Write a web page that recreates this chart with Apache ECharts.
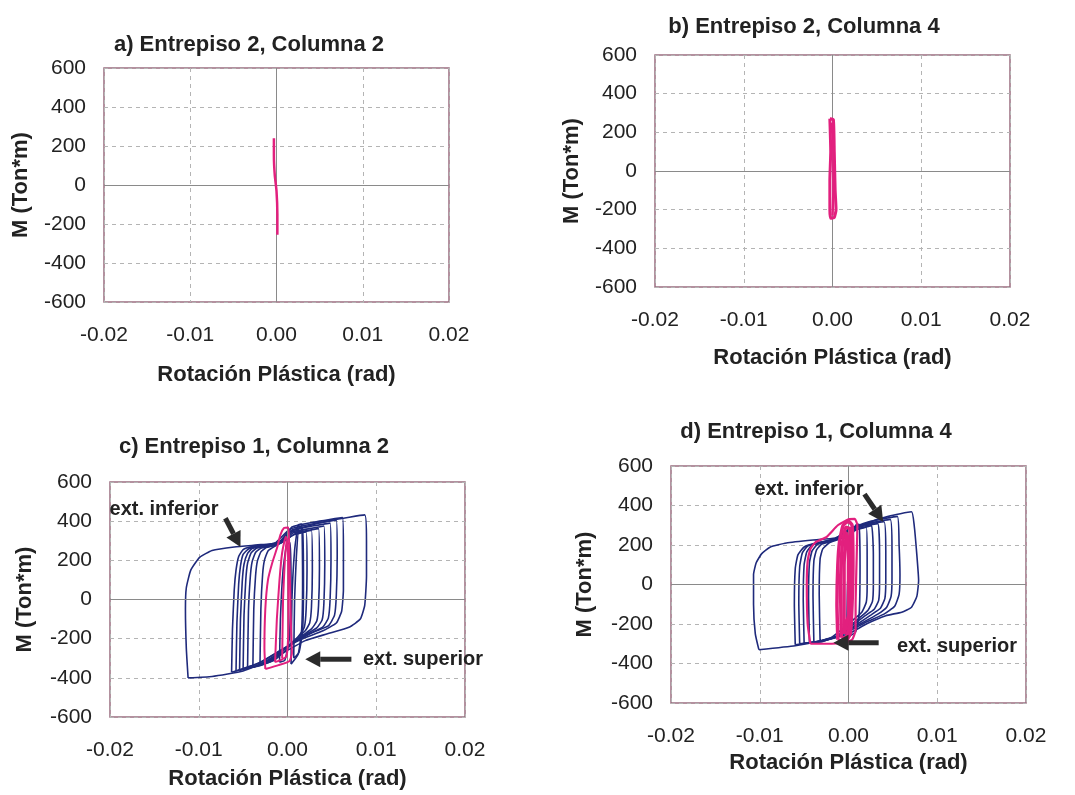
<!DOCTYPE html>
<html><head><meta charset="utf-8">
<script src="https://cdn.jsdelivr.net/npm/echarts@6/dist/echarts.min.js"></script>
<style>html,body{margin:0;padding:0;background:#fff}#c{width:1075px;height:795px}</style>
</head><body><div id="c"></div>
<script>
// ---------- texts ----------
const panelTitles = ['a) Entrepiso 2, Columna 2','b) Entrepiso 2, Columna 4','c) Entrepiso 1, Columna 2','d) Entrepiso 1, Columna 4'];
const xName = 'Rotación Plástica (rad)';
const yName = 'M (Ton*m)';
const xRange = [-0.02, 0.02, 0.01];
const yRange = [-600, 600, 200];

// ---------- data: [rotation (rad), M (Ton*m)] ----------
// a) Entrepiso 2, Columna 2
const aPink = [[-0.0003,240],[-0.0003,150],[-0.0002,50],[0.0,-30],[0.0001,-150],[0.0001,-255]];
// b) Entrepiso 2, Columna 4
const bPink = [[-0.0003,270],[0.0001,265],[0.0002,100],[0.0003,-100],[0.0004,-200],[0.0002,-240],[-0.0002,-245],[-0.0003,-200],[-0.0003,-50],[-0.0002,100],[-0.0003,270]];
const bPink2 = [[-0.0001,250],[0.0001,100],[0.0001,-100],[0.0,-230]];

// c) Entrepiso 1, Columna 2
const cBlue1 = [[-0.0112,-400],[-0.0114,-250],[-0.0115,-50],[-0.0114,60],[-0.0109,150],[-0.0099,215],[-0.0085,250],[-0.006,268],[-0.003,280],[-0.001,290],[0.0,340],[0.002,372],[0.005,405],[0.0087,432],[0.0089,300],[0.0089,120],[0.0087,-30],[0.0082,-100],[0.007,-140],[0.0045,-175],[0.002,-210],[0.0,-260],[-0.002,-310],[-0.005,-365],[-0.0085,-393],[-0.0112,-400]];
const cBlue2 = [[-0.0063,-372],[-0.0062,-150],[-0.006,50],[-0.0058,150],[-0.0055,220],[-0.005,255],[-0.004,270],[-0.002,282],[-0.0005,300],[0.0005,370],[0.003,395],[0.0062,418],[0.0063,250],[0.0063,50],[0.0061,-60],[0.0055,-120],[0.004,-160],[0.0015,-205],[-0.001,-265],[-0.003,-320],[-0.0063,-372]];
const cBlue3 = [[-0.0058,-365],[-0.0057,-120],[-0.0055,80],[-0.0053,170],[-0.005,230],[-0.0044,258],[-0.0035,270],[-0.0015,285],[0.0003,360],[0.003,388],[0.0055,405],[0.0056,220],[0.0055,20],[0.0053,-80],[0.0046,-135],[0.003,-165],[0.001,-210],[-0.0015,-280],[-0.0035,-330],[-0.0058,-365]];
const cBlue4 = [[-0.0054,-362],[-0.0053,-100],[-0.0051,90],[-0.0049,180],[-0.0045,235],[-0.004,260],[-0.003,272],[-0.001,290],[0.0005,355],[0.0028,375],[0.0048,390],[0.0049,200],[0.0048,0],[0.0046,-95],[0.004,-140],[0.0025,-175],[0.0005,-225],[-0.0015,-290],[-0.0035,-340],[-0.0054,-362]];
const cBlue5 = [[-0.005,-355],[-0.0049,-80],[-0.0047,100],[-0.0045,185],[-0.0041,238],[-0.0035,262],[-0.0025,272],[-0.0008,290],[0.0005,345],[0.0025,362],[0.0041,375],[0.0042,180],[0.0041,-20],[0.0039,-105],[0.0033,-145],[0.002,-180],[0.0,-240],[-0.002,-305],[-0.0035,-340],[-0.005,-355]];
const cBlue6 = [[-0.0045,-350],[-0.0044,-60],[-0.0042,110],[-0.004,190],[-0.0036,240],[-0.003,262],[-0.002,272],[-0.0005,295],[0.0006,340],[0.0022,352],[0.0035,362],[0.0036,160],[0.0035,-30],[0.0033,-110],[0.0027,-150],[0.0015,-190],[-0.0002,-250],[-0.002,-315],[-0.0032,-340],[-0.0045,-350]];
const cBlue7 = [[-0.0039,-345],[-0.0038,-50],[-0.0036,120],[-0.0034,195],[-0.003,243],[-0.0024,265],[-0.0015,275],[-0.0003,300],[0.0008,335],[0.0018,345],[0.0027,352],[0.0028,150],[0.0027,-40],[0.0025,-120],[0.002,-160],[0.001,-200],[-0.0005,-260],[-0.002,-320],[-0.0039,-345]];
const cBlue8 = [[-0.0031,-335],[-0.003,-50],[-0.0028,130],[-0.0026,200],[-0.0022,248],[-0.0015,270],[-0.0005,295],[0.0007,330],[0.0015,340],[0.0021,345],[0.0022,150],[0.0021,-50],[0.0019,-140],[0.0012,-190],[0.0,-250],[-0.0015,-310],[-0.0031,-335]];
const cBlue9 = [[0.0004,-330],[0.0005,0],[0.0008,250],[0.0012,380],[0.0016,385],[0.0017,100],[0.0016,-150],[0.0012,-280],[0.0004,-330]];
const cBlue10 = [[0.0007,-300],[0.0008,0],[0.001,220],[0.0013,370],[0.0017,360],[0.0018,80],[0.0017,-160],[0.0013,-270],[0.0007,-300]];
const cBlue11 = [[-0.0009,-320],[-0.0008,-100],[-0.0005,150],[-0.0001,280],[0.0003,290],[0.0004,50],[0.0002,-200],[-0.0003,-310],[-0.0009,-320]];
const cPink1 = [[-0.0025,-355],[-0.0026,-250],[-0.0025,-50],[-0.0022,100],[-0.0017,190],[-0.0012,260],[-0.0008,330],[-0.0004,365],[0.0001,368],[0.0002,250],[0.0003,50],[0.0004,-150],[0.0005,-275],[0.0002,-315],[-0.001,-335],[-0.0025,-355]];
const cPink2 = [[-0.0014,-320],[-0.0012,-100],[-0.0009,100],[-0.0006,240],[-0.0002,320],[0.0,300],[0.0001,100],[0.0001,-150],[-0.0001,-290],[-0.0008,-310],[-0.0014,-320]];
const cPink3 = [[-0.0006,-300],[-0.0005,0],[-0.0003,200],[-0.0001,300]];

// d) Entrepiso 1, Columna 4
const dBlue1 = [[-0.0101,-330],[-0.0105,-250],[-0.0107,-100],[-0.0107,50],[-0.0104,110],[-0.0098,155],[-0.0088,190],[-0.007,210],[-0.004,225],[-0.0015,235],[0.0,270],[0.002,310],[0.0045,345],[0.0071,368],[0.0074,300],[0.0077,150],[0.0079,20],[0.0077,-60],[0.0071,-115],[0.006,-140],[0.0042,-158],[0.002,-200],[0.0,-250],[-0.003,-285],[-0.006,-310],[-0.0101,-330]];
const dBlue2 = [[-0.006,-305],[-0.0061,-100],[-0.006,80],[-0.0057,150],[-0.005,190],[-0.0035,212],[-0.0015,232],[0.0,280],[0.0025,320],[0.0055,345],[0.0057,200],[0.0058,50],[0.0057,-50],[0.0052,-110],[0.004,-150],[0.002,-190],[-0.0005,-250],[-0.003,-285],[-0.006,-305]];
const dBlue3 = [[-0.0055,-300],[-0.0056,-90],[-0.0055,90],[-0.0052,160],[-0.0046,195],[-0.003,215],[-0.001,235],[0.0003,285],[0.0025,312],[0.0047,330],[0.0049,180],[0.0049,30],[0.0048,-60],[0.0043,-115],[0.0033,-150],[0.0015,-195],[-0.001,-255],[-0.003,-285],[-0.0055,-300]];
const dBlue4 = [[-0.005,-298],[-0.0051,-80],[-0.005,100],[-0.0047,165],[-0.0041,200],[-0.0025,218],[-0.0008,238],[0.0005,285],[0.0022,305],[0.004,318],[0.0042,170],[0.0042,20],[0.0041,-70],[0.0036,-120],[0.0025,-155],[0.001,-200],[-0.001,-260],[-0.003,-288],[-0.005,-298]];
const dBlue5 = [[-0.0044,-295],[-0.0045,-70],[-0.0044,110],[-0.0041,170],[-0.0035,203],[-0.002,222],[-0.0005,242],[0.0006,285],[0.002,298],[0.0033,308],[0.0035,160],[0.0035,10],[0.0034,-80],[0.0029,-125],[0.0018,-160],[0.0005,-205],[-0.0015,-265],[-0.003,-290],[-0.0044,-295]];
const dBlue6 = [[-0.0039,-292],[-0.004,-60],[-0.0039,120],[-0.0036,175],[-0.003,205],[-0.0015,225],[-0.0003,248],[0.0008,280],[0.0018,290],[0.0026,298],[0.0028,150],[0.0028,0],[0.0027,-85],[0.0022,-130],[0.0012,-170],[0.0,-215],[-0.0015,-270],[-0.0039,-292]];
const dBlue7 = [[-0.0032,-285],[-0.0033,-50],[-0.0032,130],[-0.0029,180],[-0.0022,210],[-0.001,230],[0.0,255],[0.001,278],[0.002,290],[0.0021,140],[0.0021,-10],[0.002,-90],[0.0015,-140],[0.0005,-180],[-0.0008,-230],[-0.002,-270],[-0.0032,-285]];
const dBlue8 = [[-0.0002,-270],[-0.0001,0],[0.0002,200],[0.0008,300],[0.0012,305],[0.0013,100],[0.0012,-150],[0.0008,-240],[-0.0002,-270]];
const dPink1 = [[-0.0043,-300],[-0.0046,-200],[-0.0047,0],[-0.0046,120],[-0.0043,180],[-0.0037,215],[-0.0025,240],[-0.0012,300],[0.0,330],[0.0007,332],[0.001,300],[0.0009,100],[0.0008,-100],[0.0008,-230],[0.0004,-280],[-0.0005,-295],[-0.0025,-300],[-0.0043,-300]];
const dPink2 = [[-0.0012,-280],[-0.0013,-100],[-0.0012,100],[-0.001,220],[-0.0006,300],[0.0,320],[0.0004,300],[0.0005,100],[0.0004,-100],[0.0002,-250],[-0.0004,-290],[-0.0012,-280]];
const dPink3 = [[-0.0008,-270],[-0.0009,0],[-0.0007,200],[-0.0003,290],[0.0002,280],[0.0002,0],[0.0001,-200],[-0.0003,-270],[-0.0008,-270]];
const dPink4 = [[-0.0005,-250],[-0.0005,100],[-0.0002,260],[0.0,200],[0.0,-150],[-0.0005,-250]];

// annotations
const annotTexts = ['ext. inferior','ext. superior'];
// arrows in data units: [panel index, from, to]
const arrows = [
  [2, [-0.0070, 415], [-0.0053, 268]],
  [2, [0.0072, -305], [0.0020, -305]],
  [3, [0.0018, 458], [0.0039, 318]],
  [3, [0.0034, -295], [-0.0017, -295]]
];

// ---------- layout & style ----------
const FONT = 'Liberation Sans, Arial, sans-serif';
const BLUE = '#1f2a7c';
const PINK = '#e2207e';
const grids = [
  {left:104, top:68, width:345, height:234},
  {left:655, top:55, width:355, height:232},
  {left:110, top:482, width:355, height:235},
  {left:671, top:466, width:355, height:237}
];
const titlePos = [[244,29],[799,11],[249,431],[811,416]];
const yNameGap = [72, 72, 74, 75];
const xNameGap = [62, 60, 51, 49];

const chart = echarts.init(document.getElementById('c'), null, {renderer:'canvas'});

const xAxes = grids.map((g,i)=>({
  type:'value', gridIndex:i, min:xRange[0], max:xRange[1], interval:xRange[2],
  axisLine:{show:false}, axisTick:{show:false},
  axisLabel:{margin:23, fontSize:21, color:'#222', fontFamily:FONT, formatter:v=>v.toFixed(2)},
  splitLine:{show:true, lineStyle:{color:'#b4b4b4', type:[4,4], width:1}},
  name:xName, nameLocation:'middle', nameGap:xNameGap[i],
  nameTextStyle:{fontSize:22, fontWeight:'bold', color:'#222', fontFamily:FONT}
}));
const yAxes = grids.map((g,i)=>({
  type:'value', gridIndex:i, min:yRange[0], max:yRange[1], interval:yRange[2],
  axisLine:{show:false}, axisTick:{show:false},
  axisLabel:{margin:18, fontSize:21, color:'#222', fontFamily:FONT},
  splitLine:{show:true, lineStyle:{color:'#b4b4b4', type:[4,4], width:1}},
  name:yName, nameLocation:'middle', nameGap:yNameGap[i],
  nameTextStyle:{fontSize:22, fontWeight:'bold', color:'#222', fontFamily:FONT}
}));

function loop(data, gi, color, width, z){
  return {type:'line', xAxisIndex:gi, yAxisIndex:gi, data:data, showSymbol:false, symbol:'none',
    smooth:0.15, lineStyle:{color:color, width:width}, z:z, silent:true, animation:false};
}

const series = [];
// zero lines
for (let i=0;i<4;i++){
  series.push({type:'line', xAxisIndex:i, yAxisIndex:i, data:[], z:1, silent:true, animation:false,
    markLine:{silent:true, symbol:['none','none'], label:{show:false},
      lineStyle:{color:'#8a8a8a', type:'solid', width:1},
      data:[{xAxis:0},{yAxis:0}]}});
}
series.push(loop(aPink,0,PINK,2.5,5));
series.push(loop(bPink,1,PINK,3,5));
series.push(loop(bPink2,1,PINK,2.5,5));
[cBlue1,cBlue2,cBlue3,cBlue4,cBlue5,cBlue6,cBlue7,cBlue8,cBlue9,cBlue10,cBlue11].forEach(d=>series.push(loop(d,2,BLUE,1.6,3)));
[cPink1,cPink2,cPink3].forEach(d=>series.push(loop(d,2,PINK,2,5)));
[dBlue1,dBlue2,dBlue3,dBlue4,dBlue5,dBlue6,dBlue7,dBlue8].forEach(d=>series.push(loop(d,3,BLUE,1.6,3)));
series.push(loop(dPink1,3,PINK,2.2,5));
[dPink2,dPink3,dPink4].forEach(d=>series.push(loop(d,3,PINK,3.5,5)));

const annotStyle = {font:'bold 20px '+FONT, fill:'#222', textAlign:'center', textVerticalAlign:'middle'};
const graphic = [
  {type:'text', x:164, y:509, z:10, style:Object.assign({text:annotTexts[0]}, annotStyle)},
  {type:'text', x:423, y:659, z:10, style:Object.assign({text:annotTexts[1]}, annotStyle)},
  {type:'text', x:809, y:489, z:10, style:Object.assign({text:annotTexts[0]}, annotStyle)},
  {type:'text', x:957, y:646, z:10, style:Object.assign({text:annotTexts[1]}, annotStyle)}
];

chart.setOption({
  animation:false,
  backgroundColor:'#ffffff',
  title: panelTitles.map((t,i)=>({text:t, left:titlePos[i][0], top:titlePos[i][1], textAlign:'center',
    textStyle:{fontSize:22, fontWeight:'bold', color:'#222', fontFamily:FONT}})),
  grid: grids.map(g=>Object.assign({show:true, borderColor:'#9a6d80', borderWidth:1.5, backgroundColor:'transparent', containLabel:false}, g)),
  xAxis:xAxes, yAxis:yAxes, series:series, graphic:graphic
});

// arrows: converted from data units through each grid's scales
const arrowEls = [];
arrows.forEach(a=>{
  const p0 = chart.convertToPixel({gridIndex:a[0]}, a[1]);
  const p1 = chart.convertToPixel({gridIndex:a[0]}, a[2]);
  const dx = p1[0]-p0[0], dy = p1[1]-p0[1];
  const len = Math.sqrt(dx*dx+dy*dy), ux = dx/len, uy = dy/len;
  const headL = 15, headW = 8;
  const bx = p1[0]-ux*headL, by = p1[1]-uy*headL;
  arrowEls.push({type:'line', z:20, shape:{x1:p0[0], y1:p0[1], x2:bx, y2:by}, style:{stroke:'#2b2b2b', lineWidth:5}});
  arrowEls.push({type:'polygon', z:20, shape:{points:[[p1[0],p1[1]],[bx-uy*headW, by+ux*headW],[bx+uy*headW, by-ux*headW]]}, style:{fill:'#2b2b2b'}});
});
chart.setOption({graphic: graphic.concat(arrowEls)});
</script></body></html>
